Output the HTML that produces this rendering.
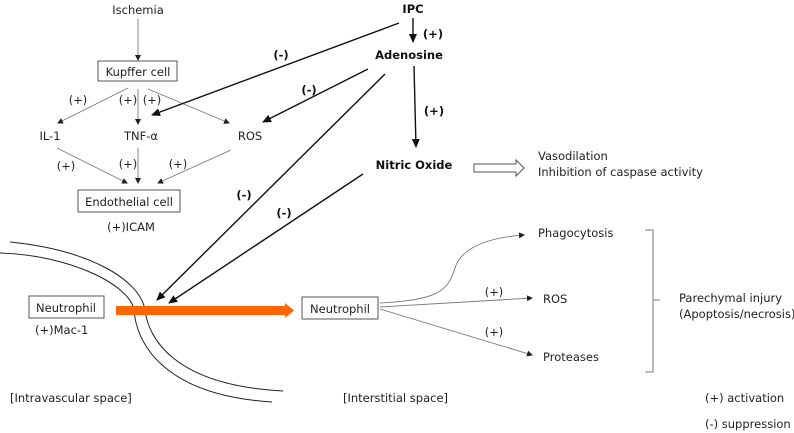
<!DOCTYPE html>
<html><head><meta charset="utf-8"><style>
html,body{margin:0;padding:0;background:#fff;width:794px;height:433px;overflow:hidden}
svg text{font-family:"DejaVu Sans","Liberation Sans",sans-serif;font-size:11.5px;fill:#222}
.b{font-weight:bold;fill:#111}
</style></head><body>
<svg width="794" height="433" viewBox="0 0 794 433" xmlns="http://www.w3.org/2000/svg">
<defs>
<marker id="a" markerWidth="6" markerHeight="6" refX="5" refY="3" orient="auto" markerUnits="userSpaceOnUse"><path d="M0,0 L6,3 L0,6z" fill="#222"/></marker>
<marker id="ab" markerWidth="9" markerHeight="8" refX="8" refY="4" orient="auto" markerUnits="userSpaceOnUse"><path d="M0,0 L9,4 L0,8z" fill="#111"/></marker>
</defs>
<g stroke="#777" stroke-width="0.9" fill="none" marker-end="url(#a)">
<line x1="138" y1="19" x2="138" y2="60"/>
<line x1="128" y1="88" x2="58" y2="123"/>
<line x1="138" y1="89" x2="138" y2="124"/>
<line x1="148" y1="89" x2="229" y2="123"/>
<line x1="57" y1="148" x2="127" y2="183"/>
<line x1="138" y1="148" x2="138" y2="183"/>
<line x1="231" y1="150" x2="158" y2="183"/>
<path d="M380,303 C440,300 448,290 455,268 C462,245 495,237 524,235"/>
<line x1="380" y1="307" x2="532" y2="298"/>
<line x1="380" y1="309" x2="532" y2="355"/>
</g>
<g stroke="#111" stroke-width="1.4" fill="none" marker-end="url(#ab)">
<line x1="413" y1="18" x2="413" y2="42"/>
<line x1="399" y1="23" x2="152" y2="115"/>
<line x1="368" y1="69" x2="263" y2="122"/>
<line x1="414" y1="66" x2="416" y2="147"/>
<line x1="385" y1="74" x2="157" y2="300"/>
<line x1="363" y1="174" x2="169" y2="303"/>
</g>
<rect x="98" y="61" width="79" height="20" fill="none" stroke="#555"/>
<rect x="78" y="190" width="102" height="22" fill="none" stroke="#555"/>
<rect x="29" y="296" width="75" height="22" fill="none" stroke="#555"/>
<rect x="302" y="297" width="76" height="22" fill="none" stroke="#555"/>
<path d="M10,242 C90,250 140,280 145,310 C148,335 170,385 283,391" fill="none" stroke="#222"/>
<path d="M0,253 C70,255 130,285 134,310 C136,340 160,395 272,402" fill="none" stroke="#222"/>
<path d="M116,306 H285 V303 L294,310.5 L285,318 V315 H116z" fill="#ff6600"/>
<path d="M474,164 H516 V160 L524,168 L516,176 V172 H474z" fill="#fff" stroke="#555"/>
<path d="M645,230 H653 V372 H645 M653,300 H660" fill="none" stroke="#777"/>
<text x="138" y="14" text-anchor="middle">Ischemia</text>
<text x="138" y="76" text-anchor="middle">Kupffer cell</text>
<text x="78" y="104" text-anchor="middle">(+)</text>
<text x="128" y="104" text-anchor="middle">(+)</text>
<text x="152" y="104" text-anchor="middle">(+)</text>
<text x="50" y="140" text-anchor="middle">IL-1</text>
<text x="141" y="140" text-anchor="middle">TNF-α</text>
<text x="250" y="140" text-anchor="middle">ROS</text>
<text x="66" y="170" text-anchor="middle">(+)</text>
<text x="128" y="168" text-anchor="middle">(+)</text>
<text x="178" y="168" text-anchor="middle">(+)</text>
<text x="129" y="206" text-anchor="middle">Endothelial cell</text>
<text x="131" y="231" text-anchor="middle">(+)ICAM</text>
<text class="b" x="413" y="13" text-anchor="middle">IPC</text>
<text class="b" x="433" y="38" text-anchor="middle">(+)</text>
<text class="b" x="409" y="59" text-anchor="middle">Adenosine</text>
<text class="b" x="281" y="59" text-anchor="middle">(-)</text>
<text class="b" x="309" y="94" text-anchor="middle">(-)</text>
<text class="b" x="434" y="115" text-anchor="middle">(+)</text>
<text class="b" x="414" y="169" text-anchor="middle">Nitric Oxide</text>
<text x="538" y="160">Vasodilation</text>
<text x="538" y="176">Inhibition of caspase activity</text>
<text class="b" x="244" y="199" text-anchor="middle">(-)</text>
<text class="b" x="284" y="217" text-anchor="middle">(-)</text>
<text x="66" y="312" text-anchor="middle">Neutrophil</text>
<text x="35" y="334">(+)Mac-1</text>
<text x="340" y="313" text-anchor="middle">Neutrophil</text>
<text x="538" y="237">Phagocytosis</text>
<text x="494" y="296" text-anchor="middle">(+)</text>
<text x="543" y="303">ROS</text>
<text x="494" y="336" text-anchor="middle">(+)</text>
<text x="543" y="361">Proteases</text>
<text x="679" y="302">Parechymal injury</text>
<text x="679" y="318">(Apoptosis/necrosis)</text>
<text x="10" y="402">[Intravascular space]</text>
<text x="343" y="402">[Interstitial space]</text>
<text x="705" y="402">(+) activation</text>
<text x="705" y="428">(-) suppression</text>
</svg>
</body></html>
